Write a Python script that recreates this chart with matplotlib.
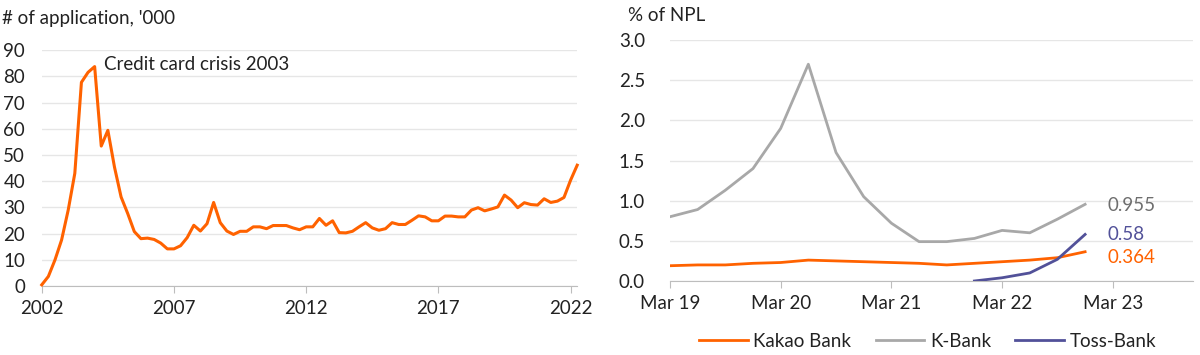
import matplotlib
matplotlib.use("Agg")
import matplotlib.pyplot as plt
import numpy as np

plt.rcParams['font.family'] = ['Lato', 'DejaVu Sans']

# ---- Left chart data: quarterly credit card applications ('000) ----
years_start = 2002.0
applications = [
    0.5, 3.7, 10.0, 17.6, 29.0, 43.0, 77.7, 81.5, 83.7, 53.4, 59.4, 45.4,
    34.0, 27.7, 20.8, 18.1, 18.3, 17.8, 16.4, 14.2, 14.2, 15.4, 18.5, 23.2,
    21.0, 23.8, 31.9, 24.2, 21.0, 19.7, 20.9, 20.9, 22.6, 22.6, 21.9, 23.1,
    23.1, 23.1, 22.2, 21.5, 22.6, 22.6, 25.8, 23.2, 24.9, 20.4, 20.3, 20.9,
    22.6, 24.2, 22.2, 21.3, 21.9, 24.2, 23.5, 23.5, 25.1, 26.8, 26.4, 24.9,
    24.9, 26.7, 26.7, 26.4, 26.4, 29.0, 29.9, 28.7, 29.4, 30.2, 34.7, 32.8,
    29.9, 31.8, 31.1, 30.9, 33.3, 31.9, 32.4, 33.8, 40.4, 46.1,
]
left_xticks = [2002, 2007, 2012, 2017, 2022]
left_yticks = [0, 10, 20, 30, 40, 50, 60, 70, 80, 90]

# ---- Right chart data: NPL ratio (%) quarterly from Mar 19 ----
quarters = ['Mar 19', 'Jun 19', 'Sep 19', 'Dec 19', 'Mar 20', 'Jun 20', 'Sep 20', 'Dec 20',
            'Mar 21', 'Jun 21', 'Sep 21', 'Dec 21', 'Mar 22', 'Jun 22', 'Sep 22', 'Dec 22']
kakao = [0.19, 0.20, 0.20, 0.22, 0.23, 0.26, 0.25, 0.24, 0.23, 0.22, 0.20, 0.22, 0.24, 0.26, 0.29, 0.364]
kbank = [0.80, 0.89, 1.13, 1.40, 1.90, 2.70, 1.60, 1.05, 0.72, 0.49, 0.49, 0.53, 0.63, 0.60, 0.77, 0.955]
toss_start = 11  # Dec 21
toss = [0.00, 0.04, 0.10, 0.27, 0.58]
right_xticklabels = ['Mar 19', 'Mar 20', 'Mar 21', 'Mar 22', 'Mar 23']
right_yticks = [0.0, 0.5, 1.0, 1.5, 2.0, 2.5, 3.0]
end_labels = ['0.955', '0.58', '0.364']

ORANGE = '#FF6200'
GREY = '#A8A8A8'
PURPLE = '#525199'
TEXT = '#222222'
GRID = '#E6E6E6'
AXIS = '#BDBDBD'
FS = 13.5

fig = plt.figure(figsize=(12, 3.55), dpi=100)

# ---------------- Left ----------------
ax1 = fig.add_axes([0.0348, 0.194, 0.4462, 0.665])
x1 = years_start + 0.25 * np.arange(len(applications))
ax1.plot(x1, applications, color=ORANGE, lw=2.2, solid_joinstyle='round', clip_on=False, zorder=3)
ax1.set_xlim(2002, 2022.25)
ax1.set_ylim(0, 90)
ax1.set_yticks(left_yticks)
ax1.set_xticks(left_xticks)
ax1.grid(axis='y', color=GRID, lw=1)
ax1.set_axisbelow(True)
for s in ['top', 'right', 'left']:
    ax1.spines[s].set_visible(False)
ax1.spines['bottom'].set_color(AXIS)
ax1.tick_params(axis='y', length=0, pad=12, labelsize=FS, labelcolor=TEXT)
ax1.tick_params(axis='x', length=5, color=AXIS, pad=5, labelsize=FS, labelcolor=TEXT)
fig.text(0.002, 0.948, "# of application, '000", fontsize=FS, color=TEXT, va='center', ha='left')
ax1.annotate('Credit card crisis 2003', xy=(2004.35, 84.5), fontsize=FS, color=TEXT,
             va='center', ha='left')

# ---------------- Right ----------------
ax2 = fig.add_axes([0.5583, 0.2085, 0.4359, 0.6785])
xq = np.arange(len(quarters))
ax2.plot(xq, kakao, color=ORANGE, lw=2.0, label='Kakao Bank', zorder=3)
ax2.plot(xq, kbank, color=GREY, lw=2.0, label='K-Bank', zorder=3)
xt = np.arange(toss_start, toss_start + len(toss))
ax2.plot(xt, toss, color=PURPLE, lw=2.0, label='Toss-Bank', zorder=4)
ax2.set_xlim(0, 18.9)
ax2.set_ylim(0, 3.0)
ax2.set_yticks(right_yticks)
ax2.set_yticklabels([f'{v:.1f}' for v in right_yticks])
ax2.set_xticks([0, 4, 8, 12, 16])
ax2.set_xticklabels(right_xticklabels)
ax2.grid(axis='y', color=GRID, lw=1)
ax2.set_axisbelow(True)
for s in ['top', 'right', 'left']:
    ax2.spines[s].set_visible(False)
ax2.spines['bottom'].set_color(AXIS)
ax2.tick_params(axis='y', length=0, pad=18, labelsize=FS, labelcolor=TEXT)
ax2.tick_params(axis='x', length=5, color=AXIS, pad=5, labelsize=FS, labelcolor=TEXT)
fig.text(0.5233, 0.957, '% of NPL', fontsize=FS, color=TEXT, va='center', ha='left')

label_colors = ['#6E6E6E', PURPLE, ORANGE]
label_vals = [kbank[-1], toss[-1], kakao[-1]]
label_dy = [-1, 0, -4]
for txt, val, c, dy in zip(end_labels, label_vals, label_colors, label_dy):
    ax2.annotate(txt, xy=(len(quarters) - 1, val), xytext=(16, dy), textcoords='offset points',
                 fontsize=FS, color=c, va='center', ha='left')

handles, labels = ax2.get_legend_handles_labels()
leg = fig.legend(handles, labels, loc='center', bbox_to_anchor=(0.773, 0.039), ncol=3,
                 frameon=False, fontsize=FS, handlelength=2.6, handletextpad=0.3,
                 columnspacing=1.3, borderpad=0, borderaxespad=0)
for t in leg.get_texts():
    t.set_color(TEXT)

fig.savefig('out.png', dpi=100)
